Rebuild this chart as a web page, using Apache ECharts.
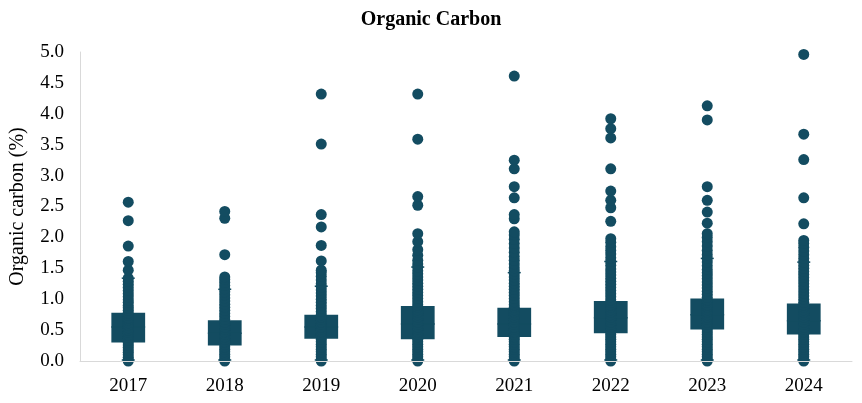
<!DOCTYPE html>
<html>
<head>
<meta charset="utf-8">
<script src="https://cdn.jsdelivr.net/npm/echarts@6/dist/echarts.min.js"></script>
<style>html,body{margin:0;padding:0;background:#fff}#c{width:862px;height:403px}</style>
</head>
<body>
<div id="c"></div>
<script>
var years = ['2017','2018','2019','2020','2021','2022','2023','2024'];

// [min, Q1, median, Q3, upper whisker]
var boxStats = [
  [0, 0.30, 0.55, 0.78, 1.34],
  [0, 0.25, 0.45, 0.66, 1.16],
  [0, 0.36, 0.55, 0.75, 1.21],
  [0, 0.35, 0.60, 0.89, 1.52],
  [0, 0.39, 0.60, 0.86, 1.43],
  [0, 0.45, 0.70, 0.97, 1.61],
  [0, 0.51, 0.75, 1.01, 1.66],
  [0, 0.43, 0.65, 0.93, 1.60]
];

var pts2017 = [0, 0.02, 0.06, 0.10, 0.14, 0.18, 0.22, 0.26, 0.30, 0.34, 0.38, 0.42, 0.46, 0.50, 0.54, 0.58, 0.62, 0.66, 0.70, 0.74, 0.78, 0.82, 0.86, 0.90, 0.95, 0.99, 1.04, 1.09, 1.14, 1.19, 1.24, 1.29, 1.34, 1.47, 1.61, 1.86, 2.27, 2.57];
var pts2018 = [0, 0.03, 0.07, 0.11, 0.15, 0.19, 0.23, 0.27, 0.31, 0.35, 0.39, 0.43, 0.47, 0.51, 0.55, 0.59, 0.63, 0.67, 0.72, 0.77, 0.82, 0.87, 0.92, 0.97, 1.02, 1.07, 1.12, 1.17, 1.22, 1.27, 1.32, 1.36, 1.72, 2.31, 2.42];
var pts2019 = [0, 0.03, 0.07, 0.11, 0.15, 0.19, 0.23, 0.27, 0.31, 0.35, 0.39, 0.43, 0.47, 0.51, 0.55, 0.59, 0.63, 0.67, 0.71, 0.75, 0.80, 0.85, 0.90, 0.95, 1.00, 1.05, 1.10, 1.15, 1.20, 1.25, 1.31, 1.37, 1.43, 1.47, 1.62, 1.87, 2.17, 2.37, 3.51, 4.32];
var pts2020 = [0, 0.03, 0.07, 0.11, 0.15, 0.19, 0.23, 0.27, 0.31, 0.35, 0.39, 0.43, 0.47, 0.51, 0.55, 0.59, 0.63, 0.67, 0.71, 0.75, 0.79, 0.83, 0.87, 0.91, 0.96, 1.01, 1.06, 1.11, 1.16, 1.21, 1.26, 1.31, 1.36, 1.41, 1.46, 1.52, 1.57, 1.63, 1.71, 1.80, 1.93, 2.06, 2.52, 2.66, 3.59, 4.32];
var pts2021 = [0, 0.03, 0.07, 0.11, 0.15, 0.19, 0.23, 0.27, 0.31, 0.35, 0.39, 0.43, 0.47, 0.51, 0.55, 0.59, 0.63, 0.67, 0.71, 0.75, 0.79, 0.83, 0.87, 0.91, 0.96, 1.01, 1.06, 1.11, 1.16, 1.21, 1.26, 1.31, 1.36, 1.41, 1.46, 1.51, 1.57, 1.63, 1.69, 1.76, 1.83, 1.90, 1.97, 2.04, 2.09, 2.30, 2.37, 2.64, 2.82, 3.11, 3.25, 4.61];
var pts2022 = [0, 0.03, 0.07, 0.11, 0.15, 0.19, 0.23, 0.27, 0.31, 0.35, 0.39, 0.43, 0.47, 0.51, 0.55, 0.59, 0.63, 0.67, 0.71, 0.75, 0.79, 0.83, 0.87, 0.91, 0.95, 0.99, 1.04, 1.09, 1.14, 1.19, 1.24, 1.29, 1.34, 1.39, 1.44, 1.49, 1.55, 1.61, 1.67, 1.73, 1.79, 1.85, 1.92, 1.98, 2.26, 2.48, 2.60, 2.75, 3.11, 3.61, 3.76, 3.92];
var pts2023 = [0, 0.03, 0.07, 0.11, 0.15, 0.19, 0.23, 0.27, 0.31, 0.35, 0.39, 0.43, 0.47, 0.51, 0.55, 0.59, 0.63, 0.67, 0.71, 0.75, 0.79, 0.83, 0.87, 0.91, 0.95, 0.99, 1.03, 1.08, 1.13, 1.18, 1.23, 1.28, 1.33, 1.38, 1.43, 1.48, 1.54, 1.60, 1.66, 1.72, 1.79, 1.86, 1.93, 2.00, 2.06, 2.23, 2.41, 2.60, 2.82, 3.90, 4.13];
var pts2024 = [0, 0.03, 0.07, 0.11, 0.15, 0.19, 0.23, 0.27, 0.31, 0.35, 0.39, 0.43, 0.47, 0.51, 0.55, 0.59, 0.63, 0.67, 0.71, 0.75, 0.79, 0.83, 0.87, 0.91, 0.95, 1.00, 1.05, 1.10, 1.15, 1.20, 1.25, 1.30, 1.35, 1.40, 1.45, 1.50, 1.55, 1.60, 1.66, 1.72, 1.78, 1.84, 1.90, 1.95, 2.22, 2.64, 3.26, 3.67, 4.96];
var pointsByYear = [pts2017, pts2018, pts2019, pts2020, pts2021, pts2022, pts2023, pts2024];

var yTicks = [0, 0.5, 1, 1.5, 2, 2.5, 3, 3.5, 4, 4.5, 5];

var COLOR = '#134c61';
var FONT = '"Liberation Serif", "DejaVu Serif", serif';

var boxData = boxStats.map(function (s, i) { return [i].concat(s); });
var scatterData = [];
pointsByYear.forEach(function (arr, i) {
  arr.forEach(function (v) { scatterData.push([i, v]); });
});

var chart = echarts.init(document.getElementById('c'), null, {renderer: 'canvas'});
chart.setOption({
  animation: false,
  backgroundColor: '#fff',
  title: {
    text: 'Organic Carbon',
    left: 'center',
    top: 5,
    textStyle: {fontFamily: FONT, fontWeight: 'bold', fontSize: 20, color: '#000'}
  },
  grid: {left: 77, right: 10, top: 52, bottom: 42},
  xAxis: {
    type: 'category',
    data: years,
    axisLine: {lineStyle: {color: '#d9d9d9', width: 1}},
    axisTick: {show: false},
    axisLabel: {fontFamily: FONT, fontSize: 19, color: '#000', margin: 16},
    z: 10
  },
  yAxis: {
    type: 'value',
    min: 0, max: 5, interval: 0.5,
    name: 'Organic carbon (%)',
    nameLocation: 'middle',
    nameGap: 52,
    nameTextStyle: {fontFamily: FONT, fontSize: 20, color: '#000'},
    axisLine: {show: true, lineStyle: {color: '#d9d9d9', width: 1}},
    axisTick: {show: false},
    splitLine: {show: false},
    axisLabel: {
      fontFamily: FONT, fontSize: 19, color: '#000', margin: 16,
      formatter: function (v) { return yTicks.indexOf(v) >= 0 ? v.toFixed(1) : ''; }
    }
  },
  series: [
    {
      type: 'custom',
      data: boxData,
      z: 2,
      renderItem: function (params, api) {
        var idx = api.value(0);
        var bw = api.size([1, 0])[0] * 0.35;
        var cw = 13;
        var pMin = api.coord([idx, api.value(1)]);
        var pQ1 = api.coord([idx, api.value(2)]);
        var pMed = api.coord([idx, api.value(3)]);
        var pQ3 = api.coord([idx, api.value(4)]);
        var pMax = api.coord([idx, api.value(5)]);
        var x = pQ1[0];
        var st = {stroke: COLOR, lineWidth: 1.5};
        return {
          type: 'group',
          children: [
            {type: 'line', shape: {x1: x, y1: pMin[1], x2: x, y2: pMax[1]}, style: st},
            {type: 'line', shape: {x1: x - cw / 2, y1: pMax[1], x2: x + cw / 2, y2: pMax[1]}, style: st},
            {type: 'line', shape: {x1: x - cw / 2, y1: pMin[1] - 1, x2: x + cw / 2, y2: pMin[1] - 1}, style: st},
            {type: 'rect', shape: {x: x - bw / 2, y: pQ3[1], width: bw, height: pQ1[1] - pQ3[1]}, style: {fill: COLOR}},
            {type: 'line', shape: {x1: x - bw / 2, y1: pMed[1], x2: x + bw / 2, y2: pMed[1]}, style: st}
          ]
        };
      }
    },
    {
      type: 'scatter',
      data: scatterData,
      symbol: 'circle',
      symbolSize: 11,
      itemStyle: {color: COLOR, opacity: 1},
      z: 3
    }
  ]
});
</script>
</body>
</html>
